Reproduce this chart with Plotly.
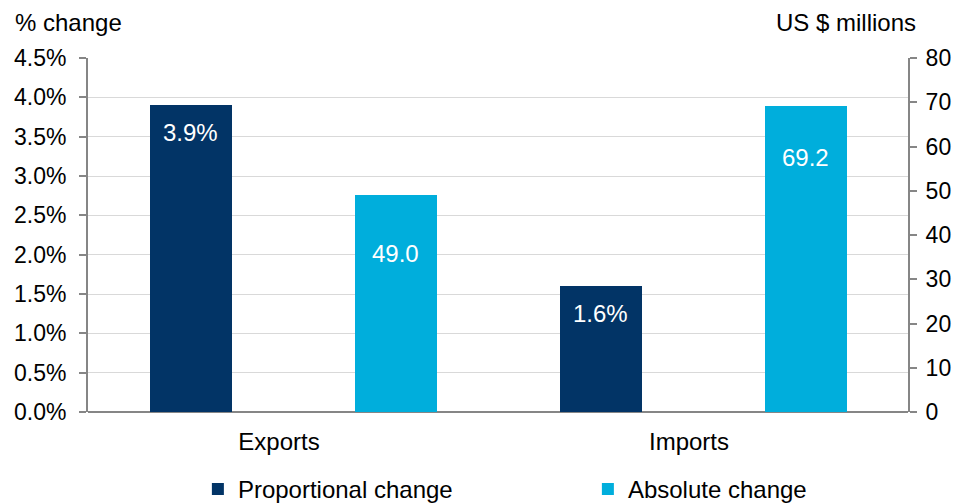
import plotly.graph_objects as go

# Trade changes by flow
categories = ["Exports", "Imports"]
proportional_change = [3.9, 1.6]      # % change (left axis)
absolute_change = [49.0, 69.2]        # US $ millions (right axis)

left_ticks = [0.0, 0.5, 1.0, 1.5, 2.0, 2.5, 3.0, 3.5, 4.0, 4.5]
right_ticks = [0, 10, 20, 30, 40, 50, 60, 70, 80]

NAVY = "#023466"
CYAN = "#00AEDC"
FONT = "Liberation Sans, Arial, sans-serif"
FS = 24        # titles, labels, legend
FS_TICK = 23   # value-axis tick labels

fig = go.Figure()
fig.add_trace(go.Bar(
    x=categories, y=proportional_change, name="Proportional change",
    marker=dict(color=NAVY, line=dict(width=0)),
    width=0.2, offset=-0.35, yaxis="y",
))
fig.add_trace(go.Bar(
    x=categories, y=absolute_change, name="Absolute change",
    marker=dict(color=CYAN, line=dict(width=0)),
    width=0.2, offset=0.15, yaxis="y2",
))

# Value labels placed inside the bars
label_shift_prop = [-27, -27]
label_shift_abs = [-58, -52]
annotations = []
for i, cat in enumerate(categories):
    annotations.append(dict(
        x=i - 0.25, y=proportional_change[i], xref="x", yref="y",
        text=f"{proportional_change[i]:.1f}%", showarrow=False,
        yshift=label_shift_prop[i], yanchor="middle",
        font=dict(family=FONT, size=FS, color="white"),
    ))
    annotations.append(dict(
        x=i + 0.25, y=absolute_change[i], xref="x", yref="y2",
        text=f"{absolute_change[i]:.1f}", showarrow=False,
        yshift=label_shift_abs[i], yanchor="middle",
        font=dict(family=FONT, size=FS, color="white"),
    ))

annotations.append(dict(
    x=-0.0915, y=1.10, xref="paper", yref="paper", text="% change",
    showarrow=False, xanchor="left", yanchor="middle",
    font=dict(family=FONT, size=FS, color="black"),
))
annotations.append(dict(
    x=1.0122, y=1.10, xref="paper", yref="paper", text="US $ millions",
    showarrow=False, xanchor="right", yanchor="middle",
    font=dict(family=FONT, size=FS, color="black"),
))

fig.update_layout(
    width=955, height=504,
    margin=dict(l=88, r=47, t=58, b=92, autoexpand=False),
    paper_bgcolor="white", plot_bgcolor="white",
    font=dict(family=FONT, size=FS, color="black"),
    showlegend=True,
    legend=dict(
        orientation="h", x=0.134, y=-0.155, xanchor="left", yanchor="top",
        entrywidth=345, entrywidthmode="pixels",
        font=dict(family=FONT, size=FS, color="black"),
        itemwidth=30, traceorder="normal",
    ),
    xaxis=dict(
        range=[-0.5, 1.5], showgrid=False,
        ticks="outside", ticklen=8, tickcolor="rgba(0,0,0,0)",
        ticklabelshift=-14,
        showline=False, zeroline=False,
        tickfont=dict(family=FONT, size=FS, color="black"),
    ),
    yaxis=dict(
        range=[0, 4.5], tickvals=left_ticks,
        ticktext=[f"{v:.1f}%" for v in left_ticks],
        showgrid=True, gridcolor="#D9D9D9", gridwidth=1,
        showline=True, linecolor="#868686", linewidth=2,
        ticks="outside", ticklen=7, tickcolor="#868686", tickwidth=2,
        ticklabelstandoff=8,
        zeroline=True, zerolinecolor="#868686", zerolinewidth=2,
        tickfont=dict(family=FONT, size=FS_TICK, color="black"),
    ),
    yaxis2=dict(
        range=[0, 80], tickvals=right_ticks, overlaying="y", side="right",
        showgrid=False, showline=True, linecolor="#868686", linewidth=2,
        ticks="outside", ticklen=7, tickcolor="#868686", tickwidth=2,
        ticklabelstandoff=4,
        zeroline=False,
        tickfont=dict(family=FONT, size=FS_TICK, color="black"),
    ),
    annotations=annotations,
    bargap=0, barmode="overlay",
)

fig.write_html("out.html")
